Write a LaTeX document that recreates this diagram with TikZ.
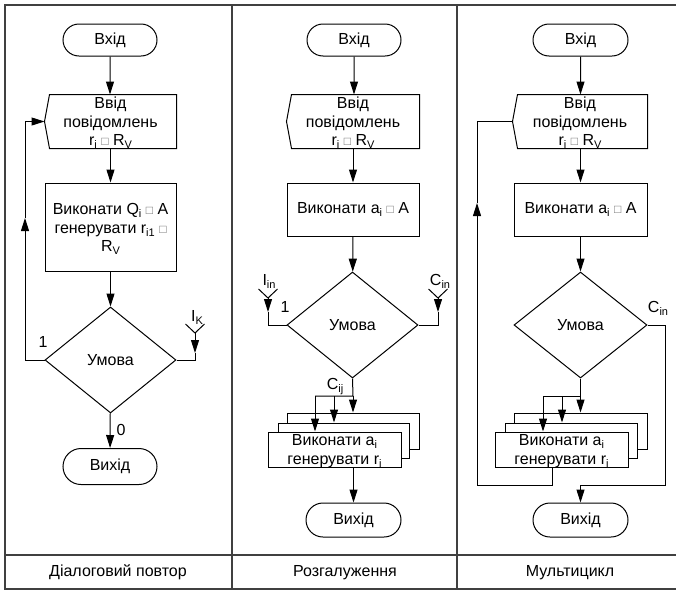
\documentclass[tikz,border=0pt]{standalone}
\usepackage{fontspec}
\setmainfont{Liberation Sans}
\usetikzlibrary{shapes.geometric,shapes.misc,arrows.meta,calc}
\newcommand\sbs[1]{\raisebox{-3pt}{\fontsize{11}{11}\selectfont #1}}
\newcommand\sqbox{{\color{black!55}\fontsize{12}{12}\selectfont □}}
\begin{document}
\begin{tikzpicture}[x=1pt,y=-1pt,font=\fontsize{16}{18.5}\selectfont,line width=1pt,
  term/.style={draw,rounded rectangle,minimum width=94pt,minimum height=32pt,inner sep=0pt},
  proc/.style={draw,rectangle,minimum width=131pt,align=center,inner sep=0pt},
  inbox/.style={rectangle,minimum width=131pt,minimum height=53pt,inner sep=0pt},
  intext/.style={align=center,inner sep=0pt},
  dec/.style={draw,diamond,minimum width=131pt,minimum height=106pt,inner sep=0pt},
  arr/.style={-{Triangle[length=13pt,width=8pt]}},
  lbl/.style={inner sep=0pt},
  frameline/.style={line width=1.5pt,draw=black!75}]
\useasboundingbox (0,0) rectangle (676,592);
% frame
\draw[frameline] (676,5) -- (5,5) -- (5,589) -- (676,589);
\draw[frameline] (232,5) -- (232,589);
\draw[frameline] (457,5) -- (457,589);
\draw[frameline] (5,555) -- (676,555);
\node[lbl] (t1) at (118,572) {Діалоговий повтор};
\node[lbl] (t2) at (345,573) {Розгалуження};
\node[lbl] (t3) at (570,573) {Мультицикл};

% ---------------- column 1
\node[term] (s1) at (110,40) {Вхід};
\node[inbox] (in1) at (110.5,121.5) {};
\node[intext] (in1t) at (110.5,123) {Ввід\\повідомлень\\r\sbs{i} \sqbox{} R\sbs{V}};
\draw ($(in1.north west)+(5,0)$) -- (in1.north east) -- (in1.south east) -- ($(in1.south west)+(5,0)$) -- (in1.west) -- cycle;
\node[proc,minimum height=88pt] (p1) at (110.5,227) {};
\node[intext] (p1t) at (110.5,229) {Виконати Q\sbs{i} \sqbox{} A\\генерувати r\sbs{i1} \sqbox{}\\R\sbs{V}};
\node[dec] (d1) at (110.5,360) {Умова};
\node[term,minimum height=36pt] (e1) at (110,466.5) {Вихід};
\draw[arr] (s1) -- (s1 |- in1.north);
\draw[arr] (in1.south -| p1) -- (p1);
\draw[arr] (p1) -- (d1);
\draw[arr] (d1) -- (e1);
\node[lbl] (z1) at (121,430) {0};
\node[lbl] (o1) at (43,342) {1};
\coordinate (c1a) at (25,360);
\coordinate (c1b) at (25,218);
\coordinate (c1c) at (25,121.5);
\draw[arr] (d1.west) -- (c1a) -- (c1b);
\draw[arr] (c1b) -- (c1c) -- (in1.west);
\coordinate (k1) at (195,333);
\coordinate (k1m) at (195,353);
\coordinate (k1j) at (195,360);
\draw (d1.east) -- (k1j) -- (k1m);
\draw[arr] (k1) -- (k1m);
\draw (185.5,324) -- (k1) -- (204.5,324);
\node[lbl] (ik) at (197,317) {I\sbs{K}};

% ---------------- column 2
\node[term] (s2) at (354,40) {Вхід};
\node[inbox,minimum width=132pt] (in2) at (353,121.5) {};
\node[intext] (in2t) at (353,123) {Ввід\\повідомлень\\r\sbs{i} \sqbox{} R\sbs{V}};
\draw ($(in2.north west)+(5,0)$) -- (in2.north east) -- (in2.south east) -- ($(in2.south west)+(5,0)$) -- (in2.west) -- cycle;
\node[proc,minimum width=132pt,minimum height=53pt] (p2) at (353,209.5) {Виконати a\sbs{i} \sqbox{} A};
\node[dec] (d2) at (352.5,325) {Умова};
\node[proc,minimum width=132pt,minimum height=36pt] (b2) at (353,431) {};
\node[proc,minimum width=131pt,minimum height=35pt,fill=white] (m2) at (343.5,440.5) {};
\node[proc,minimum width=133pt,minimum height=35pt,fill=white] (f2) at (334.5,449.5) {};
\node[intext] (f2t) at (334.5,451) {Виконати a\sbs{i}\\генерувати r\sbs{i}};
\node[term,minimum width=95pt,minimum height=34pt] (e2) at (353.5,520) {Вихід};
\draw[arr] (s2) -- (s2 |- in2.north);
\draw[arr] (in2) -- (p2);
\draw[arr] (p2) -- (d2);
% left input
\coordinate (l2y) at (268,298);
\coordinate (l2m) at (268,312);
\coordinate (l2j) at (268,325);
\draw (d2.west) -- (l2j) -- (l2m);
\draw[arr] (l2y) -- (l2m);
\draw (258.5,289) -- (l2y) -- (277.5,289);
\node[lbl] (iin) at (269,281) {I\sbs{in}};
\node[lbl] (o2) at (285,307) {1};
% right input
\coordinate (r2y) at (438,298);
\coordinate (r2m) at (438,312);
\coordinate (r2j) at (438,325);
\draw (d2.east) -- (r2j) -- (r2m);
\draw[arr] (r2y) -- (r2m);
\draw (428.5,289) -- (r2y) -- (447.5,289);
\node[lbl] (cin2) at (440,281) {C\sbs{in}};
% split
\coordinate (sp2) at (353,396);
\coordinate (sp2a) at (334,396);
\coordinate (sp2b) at (315,396);
\draw (d2.south) -- (sp2) -- (sp2b);
\draw[arr] (sp2) -- (sp2 |- b2.north);
\draw[arr] (sp2a) -- (sp2a |- m2.north);
\draw[arr] (sp2b) -- (sp2b |- f2.north);
\node[lbl] (cij) at (335,387) {C\sbs{ij}};
\draw[arr] (e2.north |- f2.south) -- (e2.north);

% ---------------- column 3
\node[term,minimum width=95pt] (s3) at (580.5,40) {Вхід};
\node[inbox,minimum width=134pt] (in3) at (580,121.5) {};
\node[intext] (in3t) at (580,123) {Ввід\\повідомлень\\r\sbs{i} \sqbox{} R\sbs{V}};
\draw ($(in3.north west)+(5,0)$) -- (in3.north east) -- (in3.south east) -- ($(in3.south west)+(5,0)$) -- (in3.west) -- cycle;
\node[proc,minimum width=133pt,minimum height=53pt] (p3) at (580.5,209.5) {Виконати a\sbs{i} \sqbox{} A};
\node[dec,minimum width=133pt] (d3) at (580.5,325) {Умова};
\node[proc,minimum width=133pt,minimum height=36pt] (b3) at (580.5,431) {};
\node[proc,minimum width=132pt,minimum height=35pt,fill=white] (m3) at (571,440.5) {};
\node[proc,minimum width=133pt,minimum height=35pt,fill=white] (f3) at (561.5,449.5) {};
\node[intext] (f3t) at (561.5,451) {Виконати a\sbs{i}\\генерувати r\sbs{i}};
\node[term,minimum width=95pt,minimum height=34pt] (e3) at (580.5,520) {Вихід};
\draw[arr] (s3) -- (s3 |- in3.north);
\draw[arr] (in3.south -| p3) -- (p3);
\draw[arr] (p3) -- (d3);
% right branch to exit
\coordinate (r3a) at (665,325);
\coordinate (r3b) at (665,485);
\coordinate (r3c) at (580.5,485);
\draw[arr] (d3.east) -- (r3a) -- (r3b) -- (r3c) -- (e3.north);
\node[lbl] (cin3) at (658,308) {C\sbs{in}};
% split
\coordinate (sp3) at (580.5,396);
\coordinate (sp3a) at (562,396);
\coordinate (sp3b) at (543,396);
\draw (d3.south) -- (sp3) -- (sp3b);
\draw[arr] (sp3) -- (sp3 |- b3.north);
\draw[arr] (sp3a) -- (sp3a |- m3.north);
\draw[arr] (sp3b) -- (sp3b |- f3.north);
% loop back
\coordinate (lp0) at (552,467);
\coordinate (lp1) at (552,485);
\coordinate (lp2) at (477,485);
\coordinate (lp3) at (477,203);
\coordinate (lp4) at (477,121.5);
\draw[arr] (lp0) -- (lp1) -- (lp2) -- (lp3);
\draw (lp3) -- (lp4) -- (in3.west);
\end{tikzpicture}
\end{document}
